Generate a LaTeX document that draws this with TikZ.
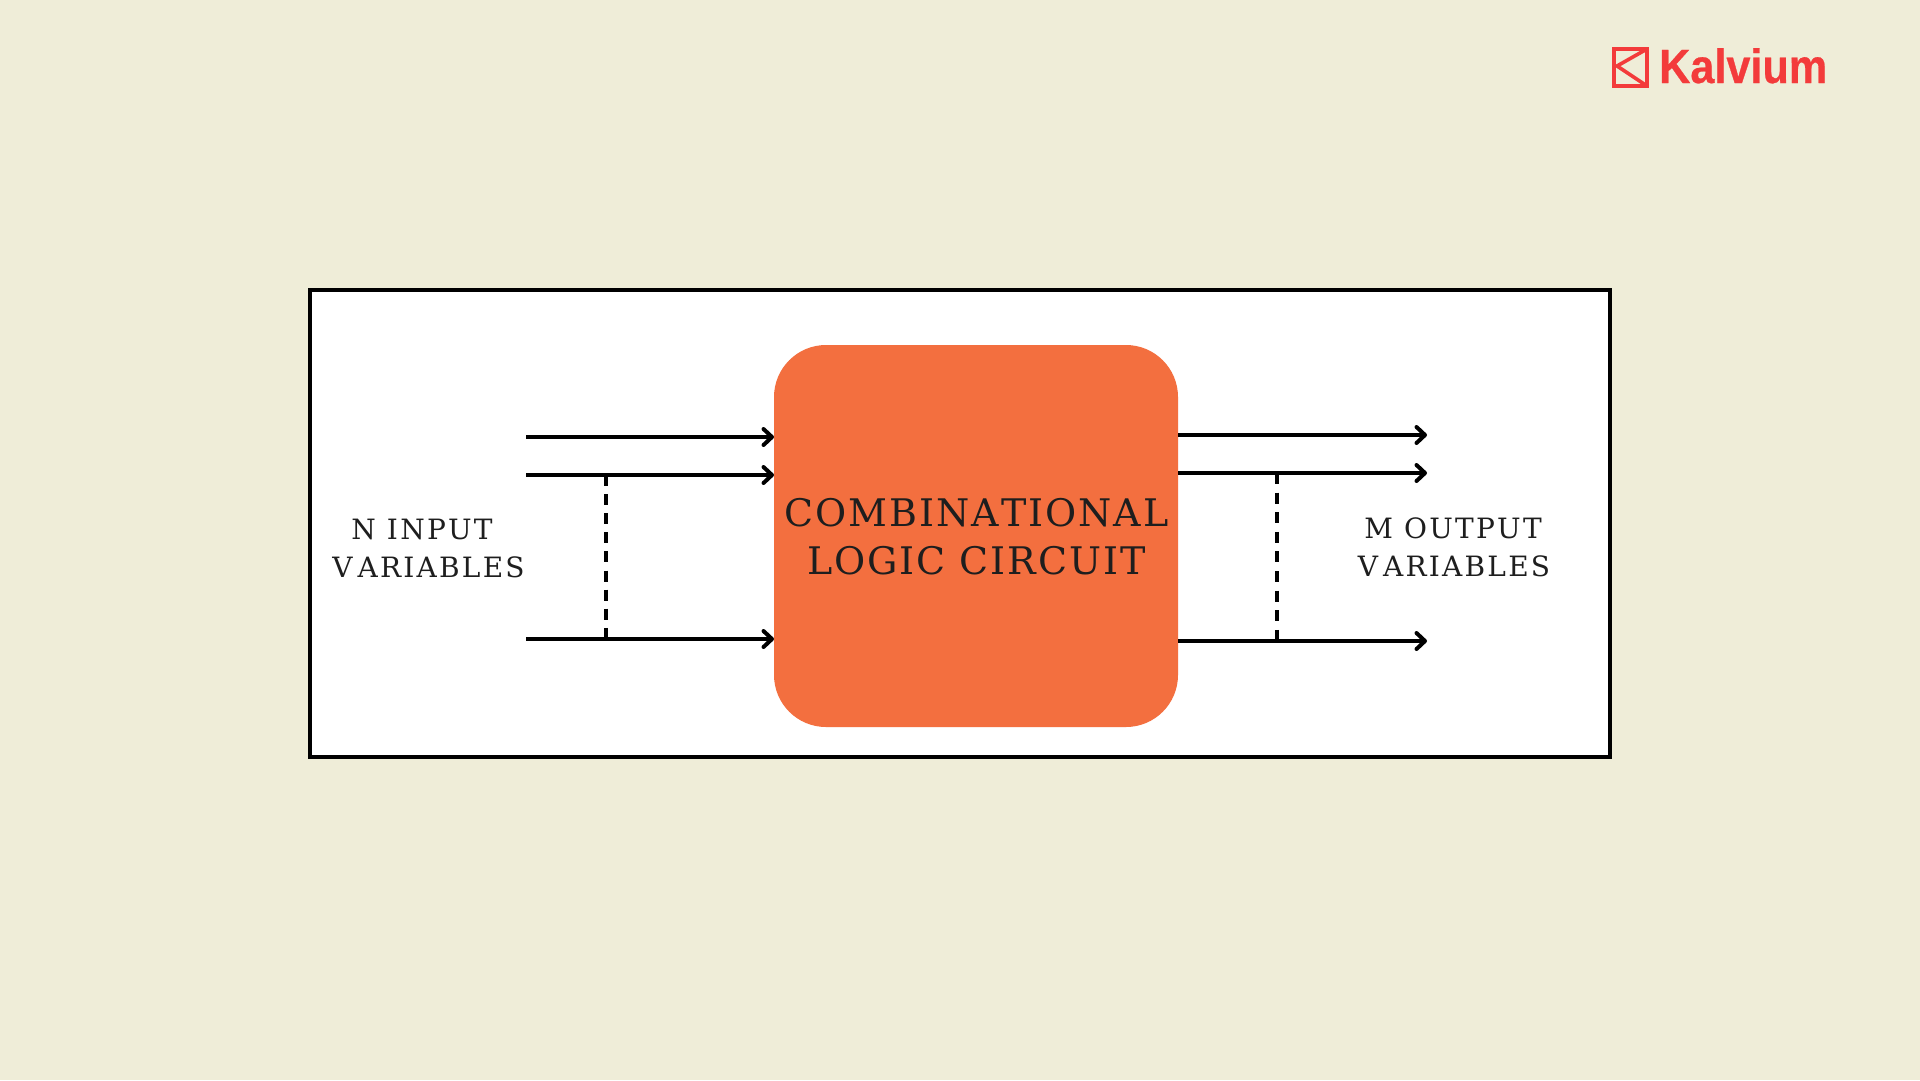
\documentclass[tikz,border=0pt]{standalone}
\usepackage{fontspec}
\usetikzlibrary{arrows.meta}
\setmainfont{DejaVu Serif}
\newfontfamily\logofont{Liberation Sans}[FakeBold=0.6]
\newfontfamily\bigserif{DejaVu Serif}[LetterSpace=5.2,Kerning=Off]
\newfontfamily\smallserif{DejaVu Serif}[LetterSpace=8,Kerning=Off]
\definecolor{pagebg}{RGB}{239,237,216}
\definecolor{blockfill}{RGB}{243,111,63}
\definecolor{logored}{RGB}{243,59,59}
\definecolor{inktext}{RGB}{30,30,30}
\tikzset{
  x=1pt,y=-1pt,
  wire/.style={draw=black,line width=3.5pt,-{Straight Barb[length=8.5pt,width=16pt,line width=4pt,round]}},
  busline/.style={draw=black,line width=3.3pt},
  bigtext/.style={anchor=base,inner sep=0pt,font=\bigserif\fontsize{38}{38}\selectfont,text=inktext},
  smalltext/.style={anchor=base,inner sep=0pt,font=\smallserif\fontsize{28}{28}\selectfont,text=inktext},
  logomark/.style={draw=logored,line width=4.4pt,miter limit=10},
}
\begin{document}
\begin{tikzpicture}
\useasboundingbox (0,0) rectangle (1920,1080);
\fill[pagebg] (0,0) rectangle (1920,1080);
\draw[fill=white,draw=black,line width=4pt] (310,290) rectangle (1610,757);
\node[fill=blockfill,rounded corners=52pt,minimum width=404pt,minimum height=382pt,inner sep=0pt] (block) at (976,536) {};
% input connectors
\coordinate (i1) at (526,437);
\coordinate (i2) at (526,475);
\coordinate (i3) at (526,639);
\coordinate (ie1) at (774,437);
\coordinate (ie2) at (774,475);
\coordinate (ie3) at (774,639);
\draw[wire] (i1) -- (ie1);
\draw[wire] (i2) -- (ie2);
\draw[wire] (i3) -- (ie3);
\coordinate (ibt) at (606,475);
\coordinate (ibb) at (606,639);
\draw[busline,dash pattern=on 11pt off 8.1pt] (ibt) -- (ibb);
% output connectors
\coordinate (o1) at (1178,435);
\coordinate (o2) at (1178,473);
\coordinate (o3) at (1178,641);
\coordinate (oe1) at (1427,435);
\coordinate (oe2) at (1427,473);
\coordinate (oe3) at (1427,641);
\draw[wire] (o1) -- (oe1);
\draw[wire] (o2) -- (oe2);
\draw[wire] (o3) -- (oe3);
\coordinate (obt) at (1277,473);
\coordinate (obb) at (1277,641);
\draw[busline,dash pattern=on 11pt off 8.6pt] (obt) -- (obb);
% texts
\node[bigtext] (t1) at (976.5,526) {COMBINATIONAL};
\node[bigtext] (t2) at (976.5,574.5) {LOGIC CIRCUIT};
\node[smalltext] (n1) at (422,539) {N INPUT};
\node[smalltext] (n2) at (428.5,577) {V\kern5pt ARIABLES};
\node[smalltext] (m1) at (1453,538) {M OUTPUT};
\node[smalltext] (m2) at (1454,576) {V\kern5pt ARIABLES};
% logo
\draw[logomark] (1614,49) rectangle (1647,86);
\draw[logomark,line width=3.6pt] (1647,49) -- (1617,66) -- (1647,86);
\node[anchor=base west,inner sep=0pt,text=logored] (logo) at (1659,83)
  {\scalebox{0.9}[1]{\logofont\bfseries\fontsize{48}{48}\selectfont Kalvium}};
\end{tikzpicture}
\end{document}
